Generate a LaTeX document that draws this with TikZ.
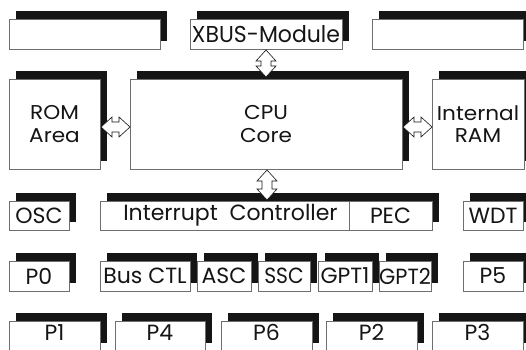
\documentclass[tikz,border=0pt]{standalone}
\usepackage{fontspec}
\setmainfont{Poppins}
\newfontfamily\bigfont[FakeStretch=1.08]{Poppins}
\usetikzlibrary{shadows,calc}
\definecolor{ink}{HTML}{151515}
\definecolor{edge}{HTML}{6E6E6E}
\newcommand\mybox[6]{\node[box, minimum width=#4pt, minimum height=#5pt] (#1) at (#2,#3) {#6};}
\newcommand\hdbl[2]{\draw[dbl] let \p1=#1, \p2=#2 in
  (\x1,\y1) -- (\x1+11pt,\y1+10pt) -- (\x1+11pt,\y1+5pt) -- (\x2-11pt,\y1+5pt) -- (\x2-11pt,\y1+10pt)
  -- (\x2,\y1) -- (\x2-11pt,\y1-10pt) -- (\x2-11pt,\y1-5pt) -- (\x1+11pt,\y1-5pt) -- (\x1+11pt,\y1-10pt) -- cycle;}
\newcommand\vdbl[2]{\draw[dbl] let \p1=#1, \p2=#2 in
  (\x1,\y1) -- (\x1+10pt,\y1-11pt) -- (\x1+5pt,\y1-11pt) -- (\x1+5pt,\y2+11pt) -- (\x1+10pt,\y2+11pt)
  -- (\x1,\y2) -- (\x1-10pt,\y2+11pt) -- (\x1-5pt,\y2+11pt) -- (\x1-5pt,\y1-11pt) -- (\x1-10pt,\y1-11pt) -- cycle;}
\begin{document}
\begin{tikzpicture}[x=1pt,y=-1pt,
  box/.style={draw=edge, line width=0.8pt, fill=white, inner sep=0pt, outer sep=0pt,
    anchor=north west, font=\fontsize{22}{24}\selectfont, text=ink, align=center,
    drop shadow={shadow xshift=7pt, shadow yshift=8pt, fill=ink, opacity=1}},
  big/.style={font=\bigfont\fontsize{20}{22.5}\selectfont},
  plain/.style={draw=edge, line width=0.8pt, fill=white, inner sep=0pt, outer sep=0pt,
    anchor=north west, font=\fontsize{22}{24}\selectfont, text=ink},
  lbl/.style={inner sep=0pt, font=\fontsize{22}{24}\selectfont, text=ink},
  dbl/.style={draw=ink, line width=0.6pt, fill=white, line join=miter}]
\useasboundingbox[fill=white] (0,0) rectangle (526,349);
% row 1
\mybox{topl}{9}{19}{151}{30}{}
\mybox{xbus}{190}{19}{152}{30}{\resizebox{148pt}{17pt}{XBUS-Module}}
\mybox{topr}{372}{19}{151}{30}{}
% row 2
\node[box, big, minimum width=91pt, minimum height=90pt] (rom) at (9,79) {ROM\\Area};
\node[box, big, minimum width=272pt, minimum height=90pt] (cpu) at (130,79) {CPU\\Core};
\node[box, big, minimum width=92pt, minimum height=90pt] (ram) at (432,79) {Internal\\RAM};
% row 3
\mybox{osc}{9}{201}{60}{29}{OSC}
\mybox{int}{100}{201}{332}{29}{}
\node[plain, minimum width=83pt, minimum height=29pt] (pec) at (349,201) {PEC};
\node[lbl] (intlbl) at ($(int.west)!0.5!(pec.west)+(6,0)$) {Interrupt\ \ Controller};
\mybox{wdt}{463}{201}{60}{29}{WDT}
% row 4
\mybox{p0}{9}{261}{60}{30}{P0}
\mybox{bus}{100}{261}{90}{30}{Bus CTL}
\mybox{asc}{197}{261}{54}{30}{ASC}
\mybox{ssc}{258}{261}{52}{30}{\scalebox{0.92}[1]{SSC}}
\mybox{gpta}{318}{261}{54}{30}{GPT1}
\mybox{gptb}{379}{261}{52}{30}{\scalebox{0.95}[1]{GPT2}}
\mybox{p5}{463}{261}{60}{30}{P5}
% row 5 (boxes run past the bottom edge)
\mybox{p1}{9}{321}{91}{30}{}
\mybox{p4}{115}{321}{90}{30}{}
\mybox{p6}{221}{321}{91}{30}{}
\mybox{p2}{326}{321}{91}{30}{}
\mybox{p3}{432}{321}{91}{30}{}
\foreach \b/\t in {p1/P1,p4/P4,p6/P6,p2/P2,p3/P3}
  \node[lbl, anchor=base] (\b lbl) at ($(\b.north)+(0,19)$) {\t};
% arrows
\hdbl{($(rom.east)+(1,3)$)}{($(cpu.west)+(0,3)$)}
\hdbl{($(cpu.east)+(1,3)$)}{($(ram.west)+(0,3)$)}
\vdbl{($(xbus.south)+(0,1)$)}{($(cpu.north)+(0,-2)$)}
\vdbl{($(cpu.south)+(1,1)$)}{($(int.north)+(1,-1)$)}
\end{tikzpicture}
\end{document}
